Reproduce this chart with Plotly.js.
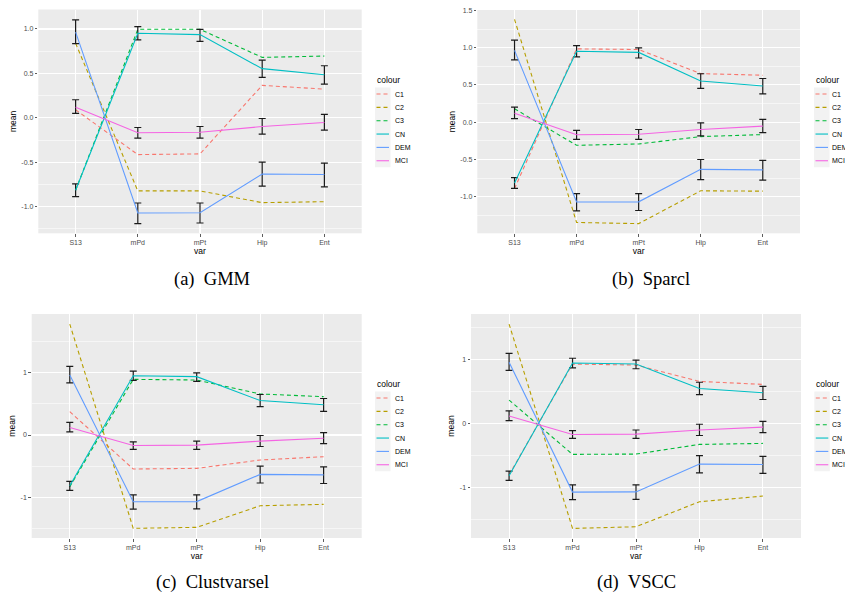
<!DOCTYPE html>
<html>
<head>
<meta charset="utf-8">
<script src="https://cdn.plot.ly/plotly-3.0.1.min.js"></script>
<style>
  html, body { margin: 0; padding: 0; background: #ffffff; }
  #chart { width: 845px; height: 599px; }
</style>
</head>
<body>
<div id="chart"></div>
<script>
// Variables on the x axis
const vars = ['S13', 'mPd', 'mPt', 'Hip', 'Ent'];

// Series shown in every panel
const seriesNames = ['C1', 'C2', 'C3', 'CN', 'DEM', 'MCI'];
const seriesColors = ['#F8766D', '#B79F00', '#00BA38', '#00BFC4', '#619CFF', '#F564E3'];

// Diagnostic groups: mean with lower / upper error limits
const cnMean  = [-0.815, 0.951, 0.936, 0.553, 0.485];
const cnLow   = [-0.888, 0.876, 0.861, 0.455, 0.380];
const cnHigh  = [-0.743, 1.026, 0.996, 0.650, 0.586];
const demMean = [0.964, -1.071, -1.068, -0.632, -0.639];
const demLow  = [0.836, -1.190, -1.184, -0.770, -0.778];
const demHigh = [1.102, -0.959, -0.959, -0.500, -0.511];
const mciMean = [0.120, -0.169, -0.162, -0.098, -0.053];
const mciLow  = [0.049, -0.229, -0.229, -0.184, -0.139];
const mciHigh = [0.203, -0.109, -0.098, -0.008, 0.038];

// Cluster profiles per method
const gmmC1 = [0.090, -0.414, -0.406, 0.365, 0.323];
const gmmC2 = [0.838, -0.823, -0.823, -0.955, -0.944];
const gmmC3 = [-0.816, 0.996, 0.996, 0.680, 0.695];

const sparclC1 = [-0.890, 0.984, 0.975, 0.652, 0.630];
const sparclC2 = [1.380, -1.345, -1.360, -0.920, -0.925];
const sparclC3 = [0.180, -0.310, -0.292, -0.193, -0.166];

const clustvarselC1 = [0.374, -0.545, -0.535, -0.401, -0.348];
const clustvarselC2 = [1.780, -1.497, -1.481, -1.134, -1.112];
const clustvarselC3 = [-0.830, 0.893, 0.882, 0.658, 0.615];

const vsccC1 = [-0.800, 0.935, 0.919, 0.663, 0.616];
const vsccC2 = [1.561, -1.640, -1.614, -1.222, -1.133];
const vsccC3 = [0.371, -0.480, -0.475, -0.324, -0.308];

// Captions
const captions = ['(a)\u2002GMM', '(b)\u2002Sparcl', '(c)\u2002Clustvarsel', '(d)\u2002VSCC'];

// Y tick labels
const yTicksA = [-1, -0.5, 0, 0.5, 1];
const yTextA  = ['-1.0', '-0.5', '0.0', '0.5', '1.0'];
const yTicksB = [-1, -0.5, 0, 0.5, 1, 1.5];
const yTextB  = ['-1.0', '-0.5', '0.0', '0.5', '1.0', '1.5'];
const yTicksC = [-1, 0, 1];
const yTextC  = ['-1', '0', '1'];
const yMinorA = [-1.25, -0.75, -0.25, 0.25, 0.75];
const yMinorB = [-1.25, -0.75, -0.25, 0.25, 0.75, 1.25];
const yMinorC = [-1.5, -0.5, 0.5, 1.5];

const W = 845, H = 599;
const px = x => x / W;
const py = y => 1 - y / H;

// Panel geometry (pixels) and y ranges
const panels = [
  { clusters: [gmmC1, gmmC2, gmmC3], box: [38.3, 361.7, 9.5, 233.3], yrange: [-1.30, 1.219],
    ticks: yTicksA, text: yTextA, minor: yMinorA, legend: [375, 80], labelGap: 17.5, caption: [212, 279] },
  { clusters: [sparclC1, sparclC2, sparclC3], box: [477.3, 800, 10, 233.3], yrange: [-1.49, 1.505],
    ticks: yTicksB, text: yTextB, minor: yMinorB, legend: [814, 80], labelGap: 16, caption: [651, 279] },
  { clusters: [clustvarselC1, clustvarselC2, clustvarselC3], box: [31.7, 361.7, 314, 538], yrange: [-1.652, 1.941],
    ticks: yTicksC, text: yTextC, minor: yMinorC, legend: [375, 384], labelGap: 17.5, caption: [212, 582] },
  { clusters: [vsccC1, vsccC2, vsccC3], box: [471, 801, 314, 538], yrange: [-1.79, 1.719],
    ticks: yTicksC, text: yTextC, minor: yMinorC, legend: [814.3, 384], labelGap: 16, caption: [636, 582] }
];

const groups = [
  { mean: cnMean, low: cnLow, high: cnHigh },
  { mean: demMean, low: demLow, high: demHigh },
  { mean: mciMean, low: mciLow, high: mciHigh }
];

const tickFont = { family: 'Liberation Sans, Arial, sans-serif', size: 7, color: '#4D4D4D' };
const titleFont = { family: 'Liberation Sans, Arial, sans-serif', size: 8.5, color: '#000000' };

const traces = [];
const layout = {
  width: W, height: H,
  margin: { l: 0, r: 0, t: 0, b: 0 },
  paper_bgcolor: '#FFFFFF',
  plot_bgcolor: '#EBEBEB',
  showlegend: false,
  shapes: [],
  annotations: []
};

panels.forEach((p, i) => {
  const n = i === 0 ? '' : String(i + 1);
  const xa = 'x' + n, ya = 'y' + n;

  // Cluster profiles: dashed lines
  p.clusters.forEach((vals, k) => {
    traces.push({
      type: 'scatter', mode: 'lines', x: vars, y: vals,
      xaxis: xa, yaxis: ya, name: seriesNames[k],
      line: { color: seriesColors[k], width: 1.1, dash: '4px,3px' },
      hoverinfo: 'skip'
    });
  });

  // Diagnostic groups: solid lines with error bars
  groups.forEach((g, k) => {
    traces.push({
      type: 'scatter', mode: 'lines', x: vars, y: g.mean,
      xaxis: xa, yaxis: ya, name: seriesNames[k + 3],
      line: { color: seriesColors[k + 3], width: 1.1 },
      error_y: {
        type: 'data', symmetric: false,
        array: g.high.map((v, j) => v - g.mean[j]),
        arrayminus: g.mean.map((v, j) => v - g.low[j]),
        color: '#1A1A1A', thickness: 1.2, width: 3.5
      },
      hoverinfo: 'skip'
    });
  });

  const [x0, x1, y0, y1] = p.box;
  layout['xaxis' + n] = {
    domain: [px(x0), px(x1)], anchor: ya,
    type: 'category', categoryarray: vars, range: [-0.6, 4.6],
    showgrid: true, gridcolor: '#FFFFFF', gridwidth: 1.1,
    zeroline: false, showline: false,
    ticks: 'outside', ticklen: 2.5, tickwidth: 0.8, tickcolor: '#333333',
    tickfont: tickFont,
    title: { text: 'var', font: titleFont, standoff: 1 }
  };
  layout['yaxis' + n] = {
    domain: [py(y1), py(y0)], anchor: xa,
    range: p.yrange,
    tickmode: 'array', tickvals: p.ticks, ticktext: p.text,
    showgrid: true, gridcolor: '#FFFFFF', gridwidth: 1.1,
    minor: { tickmode: 'array', tickvals: p.minor, showgrid: true, gridcolor: '#FFFFFF', gridwidth: 0.55, ticks: '' },
    zeroline: false, showline: false,
    ticks: 'outside', ticklen: 2.5, tickwidth: 0.8, tickcolor: '#333333',
    tickfont: tickFont,
    title: { text: 'mean', font: titleFont, standoff: 3 }
  };

  // Legend: title, grey key background, keys and labels
  const [lx, ly] = p.legend;
  const itemY0 = ly + 14, step = 13.35;
  layout.annotations.push({
    xref: 'paper', yref: 'paper', x: px(lx), y: py(ly),
    xanchor: 'left', yanchor: 'middle', showarrow: false,
    text: 'colour', font: titleFont
  });
  layout.shapes.push({
    type: 'rect', xref: 'paper', yref: 'paper', layer: 'below',
    x0: px(lx), x1: px(lx + 15.5), y0: py(itemY0 - 6.5), y1: py(itemY0 + 5 * step + 6.5),
    fillcolor: '#F2F2F2', line: { width: 0 }
  });
  seriesNames.forEach((name, k) => {
    const yy = itemY0 + k * step;
    layout.shapes.push({
      type: 'line', xref: 'paper', yref: 'paper',
      x0: px(lx + 1.5), x1: px(lx + 14), y0: py(yy), y1: py(yy),
      line: { color: seriesColors[k], width: 1.1, dash: k < 3 ? '4px,3px' : 'solid' }
    });
    layout.annotations.push({
      xref: 'paper', yref: 'paper', x: px(lx + p.labelGap), y: py(yy),
      xanchor: 'left', yanchor: 'middle', showarrow: false,
      text: name, font: { family: 'Liberation Sans, Arial, sans-serif', size: 7, color: '#000000' }
    });
  });

  // Sub-figure caption
  layout.annotations.push({
    xref: 'paper', yref: 'paper', x: px(p.caption[0]), y: py(p.caption[1]),
    xanchor: 'center', yanchor: 'middle', showarrow: false,
    text: captions[i], font: { family: 'Liberation Serif, Times New Roman, serif', size: 18.5, color: '#000000' }
  });
});

Plotly.newPlot('chart', traces, layout, { staticPlot: true, displayModeBar: false });
</script>
</body>
</html>
